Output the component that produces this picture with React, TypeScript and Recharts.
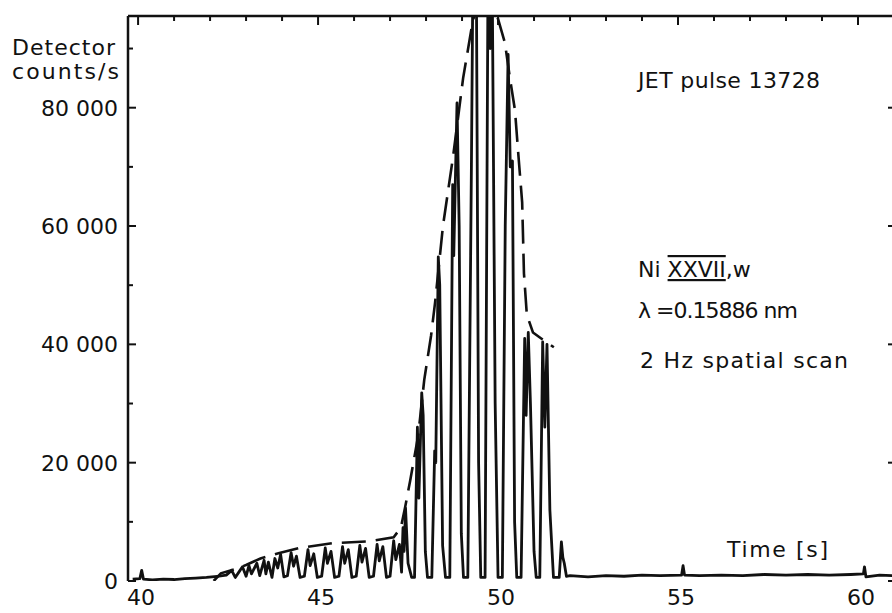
import { LineChart, Line, XAxis, YAxis } from "recharts";

// JET pulse 13728 — Ni XXVII w line, 2 Hz spatial scan
const scanTimes = [
  39.85, 40.05, 40.1, 40.15, 40.4, 40.7, 41.0, 41.3, 41.6, 41.9, 42.2, 42.45,
  42.6, 42.7, 42.8, 42.9, 43.0, 43.08, 43.15, 43.3, 43.38, 43.5, 43.55, 43.62,
  43.72, 43.8, 43.88, 43.96, 44.05, 44.15, 44.25, 44.32, 44.4, 44.5, 44.62, 44.72,
  44.78, 44.88, 44.98, 45.1, 45.2, 45.26, 45.36, 45.46, 45.58, 45.68, 45.74, 45.84,
  45.94, 46.06, 46.16, 46.22, 46.32, 46.42, 46.54, 46.64, 46.7, 46.8, 46.9, 47.0,
  47.1, 47.16, 47.26, 47.32, 47.36, 47.39, 47.43, 47.5, 47.6, 47.68, 47.76, 47.8,
  47.88, 47.92, 47.98, 48.04, 48.16, 48.24, 48.27, 48.34, 48.38, 48.46, 48.54, 48.66,
  48.74, 48.77, 48.86, 48.92, 48.98, 49.04, 49.16, 49.26, 49.3, 49.4, 49.46, 49.52,
  49.64, 49.72, 49.78, 49.84, 49.92, 50.0, 50.12, 50.2, 50.28, 50.34, 50.4, 50.46,
  50.52, 50.64, 50.74, 50.78, 50.84, 50.9, 51.0, 51.06, 51.16, 51.24, 51.3, 51.36,
  51.44, 51.54, 51.7, 51.76, 51.8, 51.84, 51.9, 52.0, 52.5, 53.0, 53.5, 54.0,
  54.5, 55.1, 55.14, 55.18, 55.6, 56.2, 56.8, 57.4, 58.0, 58.6, 59.2, 59.8,
  60.15, 60.18, 60.22, 60.6, 61.0,
];
const scanCounts = [
  300, 400, 1800, 300, 200, 300, 250, 400, 500, 600, 800, 1000,
  1800, 600, 1500, 2400, 800, 2600, 1200, 3000, 900, 3500, 1200, 3200,
  600, 3800, 2200, 4500, 700, 900, 4800, 2500, 4200, 600, 800, 5300,
  2600, 4600, 600, 800, 5600, 3000, 5000, 600, 800, 5800, 3000, 5300,
  600, 800, 6000, 3200, 5500, 600, 800, 6200, 3400, 5800, 600, 800,
  6800, 3600, 6200, 1500, 9000, 5000, 12300, 3000, 600, 600, 26000, 14000,
  31800, 28000, 5000, 600, 600, 22000, 20000, 54800, 50000, 6000, 600, 600,
  67000, 55000, 80800, 60000, 8000, 600, 600, 70000, 101000, 99000, 20000, 600,
  600, 101000, 90000, 100000, 30000, 600, 600, 60000, 89000, 70000, 71000, 10000,
  600, 600, 41000, 28000, 42000, 30000, 5000, 600, 600, 40400, 26000, 40000,
  12000, 600, 600, 6600, 4000, 3000, 800, 900, 700, 900, 800, 1000,
  900, 1000, 2600, 1000, 900, 1000, 900, 1100, 1000, 1100, 1000, 1100,
  1200, 2400, 700, 1000, 900,
];

// dashed envelope
const envTimes = [
  42.1, 42.3, 42.7, 43.0, 43.4, 43.9, 44.5, 45.4, 46.4, 47.1, 47.3, 47.42,
  47.56, 47.78, 47.95, 48.14, 48.25, 48.47, 48.75, 49.03, 49.28, 49.5, 49.7, 50.0,
  50.19, 50.33, 50.47, 50.56, 50.67, 50.72, 50.8, 50.97, 51.2, 51.55,
];
const envCounts = [
  0, 1300, 2000, 2700, 3800, 4700, 5600, 6400, 6700, 7400, 9000, 12500,
  17000, 24500, 34000, 41500, 47000, 60000, 71700, 85000, 94000, 100000, 100000, 95000,
  91000, 85000, 79600, 72400, 64000, 52000, 45000, 42000, 41000, 39500,
];

const xTicks = [40, 45, 50, 55, 60];
const xMinorTicks = [40, 41, 42, 43, 44, 45, 46, 47, 48, 49, 50, 51, 52, 53, 54, 55, 56, 57, 58, 59, 60];
const yTicks = [0, 10000, 20000, 30000, 40000, 50000, 60000, 70000, 80000, 90000];
const yLabelTicks = [0, 20000, 40000, 60000, 80000];

const X_DOMAIN: [number, number] = [39.72, 61.0];
const Y_DOMAIN: [number, number] = [0, 95500];
const FONT = "'DejaVu Sans', sans-serif";
const INK = "#111";

const scanData = scanTimes.map((t, i) => ({ t, v: scanCounts[i] }));
const envData = envTimes.map((t, i) => ({ t, v: envCounts[i] }));

const fmt = (v: number) => (v === 0 ? "0" : `${Math.round(v / 1000)} 000`);

function LeftTick(props: any) {
  const { x, y, payload } = props;
  const major = yLabelTicks.includes(payload.value);
  return (
    <g>
      <line x1={x + 10} x2={x + 10 + (major ? 8 : 5)} y1={y} y2={y} stroke={INK} strokeWidth={2} />
      {major && (
        <text x={x} y={y + 8} textAnchor="end" fontFamily={FONT} fontSize={22} fill={INK}>
          {fmt(payload.value)}
        </text>
      )}
    </g>
  );
}

function RightTick(props: any) {
  const { x, y } = props;
  return <line x1={x} x2={x - 6} y1={y} y2={y} stroke={INK} strokeWidth={2} />;
}

function TopTick(props: any) {
  const { x, y, payload } = props;
  const major = xTicks.includes(payload.value);
  return <line x1={x} x2={x} y1={y} y2={y + (major ? 9 : 5)} stroke={INK} strokeWidth={2} />;
}

function BottomTick(props: any) {
  const { x, y, payload } = props;
  return (
    <text x={x + 3} y={y + 24} textAnchor="middle" fontFamily={FONT} fontSize={22} fill={INK}>
      {payload.value}
    </text>
  );
}

export default function App() {
  return (
    <div
      style={{
        position: "absolute",
        left: 0,
        top: 0,
        width: 892,
        height: 613,
        overflow: "hidden",
        background: "#fff",
      }}
    >
      <LineChart width={900} height={613} margin={{ top: 0, right: 0, bottom: 0, left: 0 }}>
        <XAxis
          xAxisId="b"
          dataKey="t"
          type="number"
          domain={X_DOMAIN}
          ticks={xTicks}
          allowDataOverflow
          orientation="bottom"
          height={32}
          axisLine={false}
          tickLine={false}
          tickSize={0}
          tickMargin={0}
          tick={BottomTick}
        />
        <XAxis
          xAxisId="t"
          dataKey="t"
          type="number"
          domain={X_DOMAIN}
          ticks={xMinorTicks}
          allowDataOverflow
          orientation="top"
          height={16}
          axisLine={{ stroke: INK, strokeWidth: 2.5 }}
          tickLine={false}
          tickSize={0}
          tickMargin={0}
          tick={TopTick}
        />
        <YAxis
          yAxisId="l"
          type="number"
          domain={Y_DOMAIN}
          ticks={yTicks}
          allowDataOverflow
          width={128}
          axisLine={{ stroke: INK, strokeWidth: 2.5 }}
          tickLine={false}
          tickSize={0}
          tickMargin={10}
          tick={LeftTick}
        />
        <YAxis
          yAxisId="r"
          orientation="right"
          type="number"
          domain={Y_DOMAIN}
          ticks={yLabelTicks}
          allowDataOverflow
          width={6}
          axisLine={{ stroke: INK, strokeWidth: 2.5 }}
          tickLine={false}
          tickSize={0}
          tickMargin={0}
          tick={RightTick}
        />
        <Line
          xAxisId="b"
          yAxisId="l"
          data={scanData}
          dataKey="v"
          type="linear"
          stroke={INK}
          strokeWidth={2.8}
          strokeLinejoin="round"
          dot={false}
          isAnimationActive={false}
        />
        <Line
          xAxisId="t"
          yAxisId="r"
          data={envData}
          dataKey="v"
          type="linear"
          stroke={INK}
          strokeWidth={2.6}
          strokeDasharray="24 10"
          dot={false}
          isAnimationActive={false}
        />
      </LineChart>
      <svg
        width={892}
        height={613}
        style={{ position: "absolute", left: 0, top: 0, pointerEvents: "none" }}
        fontFamily={FONT}
        fontSize={22}
        fill={INK}
      >
        <text x={12} y={55} textLength={103} lengthAdjust="spacing">Detector</text>
        <text x={12} y={79} textLength={107} lengthAdjust="spacing">counts/s</text>
        <text x={638} y={88} textLength={182} lengthAdjust="spacing">JET pulse 13728</text>
        <text x={638} y={277}>
          Ni{" "}
          <tspan style={{ textDecoration: "underline overline" }}>XXVII</tspan>,w
        </text>
        <text x={638} y={318} textLength={160} lengthAdjust="spacing">λ =0.15886 nm</text>
        <text x={640} y={368} textLength={208} lengthAdjust="spacing">2 Hz spatial scan</text>
        <text x={727} y={557} textLength={101} lengthAdjust="spacing">Time [s]</text>
      </svg>
    </div>
  );
}
